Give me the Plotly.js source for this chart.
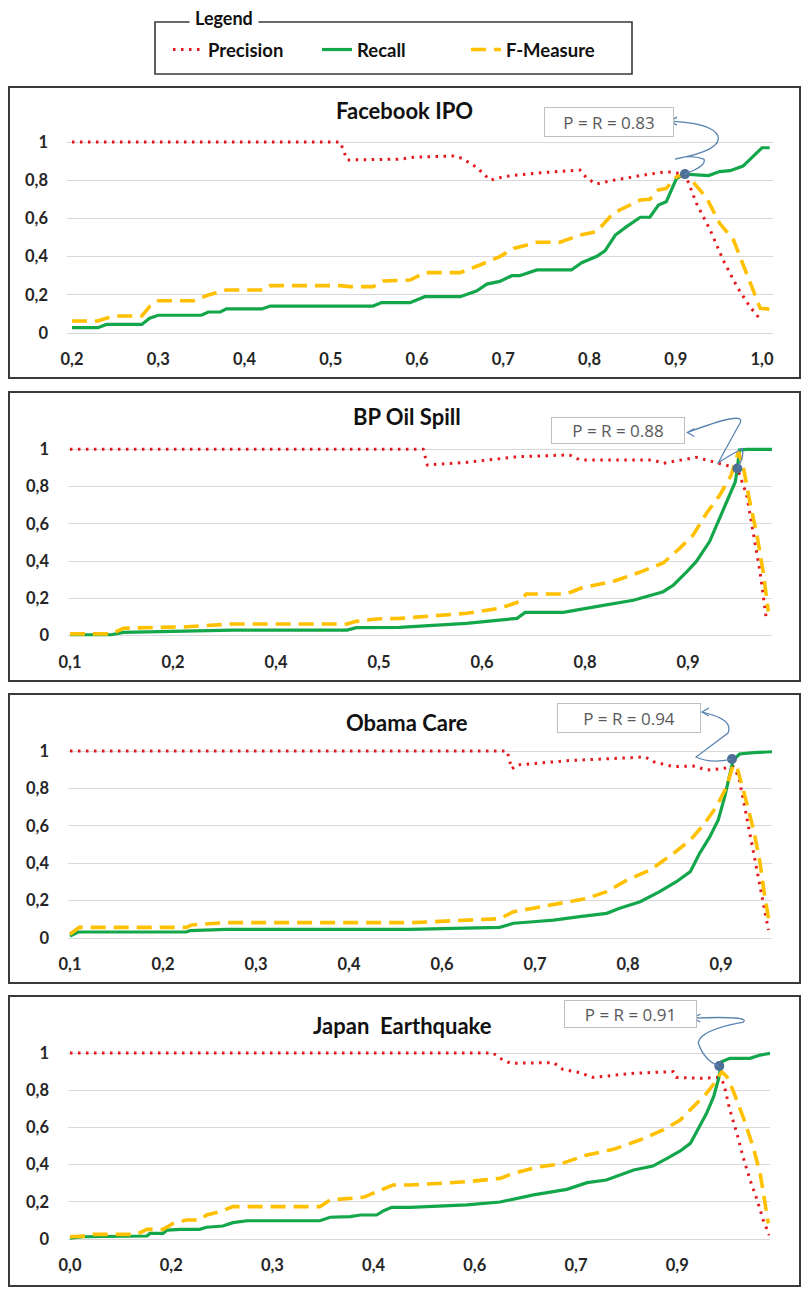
<!DOCTYPE html>
<html>
<head>
<meta charset="utf-8">
<script src="https://cdn.plot.ly/plotly-3.0.1.min.js"></script>
<style>html,body{margin:0;padding:0;background:#fff;}#chart{width:807px;height:1289px;}</style>
</head>
<body>
<div id="chart"></div>
<script>
// ---------- DATA (x = position along the category axis, tick i at x=i) ----------
const seriesNames = ['Precision', 'Recall', 'F-Measure'];
const panelTitles = ['Facebook IPO', 'BP Oil Spill', 'Obama Care', 'Japan  Earthquake'];

const fbTicks = ['0,2','0,3','0,4','0,5','0,6','0,7','0,8','0,9','1,0'];
const bpTicks = ['0,1','0,2','0,4','0,5','0,6','0,8','0,9'];
const obTicks = ['0,1','0,2','0,3','0,4','0,6','0,7','0,8','0,9'];
const jpTicks = ['0,0','0,2','0,3','0,4','0,6','0,7','0,9'];
const yTickVals = [0, 0.2, 0.4, 0.6, 0.8, 1];
const yTickText = ['0','0,2','0,4','0,6','0,8','1'];

const fbPrecision = [[0,1.0],[3.11,1.0],[3.19,0.906],[3.8,0.91],[3.96,0.92],[4.42,0.927],[4.52,0.915],[4.69,0.868],[4.85,0.80],[5.0,0.818],[5.16,0.827],[5.43,0.839],[5.89,0.853],[5.97,0.81],[6.08,0.78],[6.28,0.80],[6.59,0.824],[6.89,0.845],[7.11,0.832],[7.24,0.679],[7.40,0.539],[7.55,0.382],[7.71,0.243],[7.86,0.138],[8.0,0.06]];
const fbRecall = [[0,0.028],[0.30,0.028],[0.40,0.045],[0.81,0.045],[0.90,0.077],[1.0,0.093],[1.5,0.093],[1.58,0.11],[1.72,0.11],[1.79,0.126],[2.2,0.126],[2.3,0.141],[3.49,0.141],[3.59,0.159],[3.92,0.159],[4.09,0.19],[4.5,0.19],[4.69,0.22],[4.81,0.256],[4.96,0.27],[5.10,0.30],[5.19,0.30],[5.39,0.33],[5.79,0.33],[5.91,0.368],[6.08,0.40],[6.18,0.43],[6.30,0.513],[6.43,0.557],[6.59,0.606],[6.70,0.606],[6.80,0.67],[6.89,0.687],[7.01,0.81],[7.11,0.832],[7.38,0.824],[7.51,0.845],[7.63,0.85],[7.78,0.874],[8.0,0.97],[8.09,0.97]];
const fbFMeasure = [[0,0.063],[0.30,0.063],[0.48,0.089],[0.81,0.089],[0.90,0.138],[1.0,0.169],[1.41,0.169],[1.58,0.199],[1.79,0.225],[2.22,0.225],[2.30,0.248],[3.11,0.248],[3.22,0.243],[3.49,0.243],[3.61,0.272],[3.92,0.277],[4.09,0.316],[4.5,0.316],[4.73,0.356],[4.96,0.40],[5.12,0.443],[5.39,0.475],[5.66,0.475],[5.89,0.513],[6.08,0.53],[6.24,0.609],[6.35,0.644],[6.59,0.696],[6.70,0.70],[6.80,0.749],[6.89,0.757],[7.01,0.818],[7.11,0.832],[7.20,0.792],[7.36,0.705],[7.51,0.574],[7.67,0.487],[7.82,0.312],[7.98,0.129],[8.09,0.125]];

const bpPrecision = [[0,1.0],[3.43,1.0],[3.47,0.916],[3.85,0.93],[4.34,0.96],[4.85,0.97],[4.95,0.943],[5.66,0.943],[5.76,0.925],[6.08,0.957],[6.28,0.928],[6.48,0.898],[6.57,0.755],[6.63,0.558],[6.70,0.343],[6.76,0.093]];
const bpRecall = [[0,0.005],[0.4,0.005],[0.52,0.018],[1.17,0.025],[1.58,0.03],[2.69,0.03],[2.78,0.043],[3.20,0.045],[3.85,0.066],[4.17,0.084],[4.34,0.093],[4.42,0.125],[4.79,0.125],[5.15,0.16],[5.47,0.19],[5.76,0.236],[5.86,0.272],[5.99,0.344],[6.08,0.397],[6.21,0.505],[6.31,0.63],[6.39,0.737],[6.46,0.826],[6.48,0.898],[6.50,0.996],[6.57,1.0],[6.82,1.0]];
const bpFMeasure = [[0,0.01],[0.4,0.01],[0.52,0.04],[1.14,0.048],[1.58,0.063],[2.69,0.063],[2.78,0.077],[2.98,0.09],[3.20,0.093],[3.59,0.11],[3.85,0.12],[4.17,0.147],[4.37,0.183],[4.43,0.224],[4.82,0.224],[4.98,0.259],[5.27,0.29],[5.53,0.34],[5.76,0.39],[5.92,0.469],[6.05,0.54],[6.18,0.657],[6.31,0.755],[6.42,0.862],[6.49,0.987],[6.54,0.898],[6.60,0.72],[6.67,0.54],[6.73,0.344],[6.78,0.13]];

const obPrecision = [[0,1.0],[4.70,1.0],[4.75,0.904],[4.80,0.925],[5.34,0.948],[5.70,0.955],[6.06,0.965],[6.18,0.97],[6.27,0.943],[6.49,0.916],[6.70,0.92],[6.85,0.898],[6.99,0.904],[7.13,0.916],[7.19,0.863],[7.24,0.738],[7.31,0.56],[7.38,0.38],[7.45,0.203],[7.51,0.043]];
const obRecall = [[0,0.01],[0.09,0.032],[1.25,0.032],[1.29,0.039],[1.68,0.046],[3.66,0.046],[4.62,0.057],[4.77,0.079],[4.98,0.087],[5.20,0.096],[5.48,0.114],[5.77,0.132],[5.91,0.159],[6.13,0.194],[6.34,0.248],[6.52,0.301],[6.67,0.355],[6.77,0.453],[6.88,0.542],[6.97,0.631],[7.04,0.756],[7.10,0.881],[7.13,0.952],[7.20,0.984],[7.35,0.991],[7.55,0.996]];
const obFMeasure = [[0,0.02],[0.1,0.057],[1.25,0.057],[1.31,0.07],[1.68,0.082],[3.66,0.082],[4.62,0.103],[4.77,0.141],[4.98,0.159],[5.34,0.19],[5.56,0.212],[5.77,0.248],[5.99,0.31],[6.24,0.364],[6.49,0.453],[6.67,0.524],[6.81,0.604],[6.95,0.702],[7.06,0.809],[7.13,0.925],[7.17,0.916],[7.24,0.791],[7.35,0.578],[7.42,0.40],[7.47,0.221],[7.52,0.079]];

const jpPrecision = [[0,1.0],[4.18,1.0],[4.25,0.971],[4.35,0.945],[4.78,0.948],[4.87,0.912],[5.04,0.894],[5.17,0.869],[5.57,0.891],[5.96,0.90],[5.99,0.869],[6.23,0.864],[6.41,0.869],[6.46,0.837],[6.52,0.694],[6.59,0.568],[6.65,0.443],[6.72,0.317],[6.79,0.21],[6.85,0.102],[6.91,0.02]];
const jpRecall = [[0,0.004],[0.13,0.012],[0.76,0.016],[0.79,0.03],[0.92,0.03],[0.96,0.048],[1.09,0.052],[1.28,0.052],[1.35,0.063],[1.51,0.07],[1.61,0.088],[1.75,0.098],[2.47,0.098],[2.57,0.117],[2.77,0.12],[2.87,0.129],[3.03,0.129],[3.10,0.152],[3.18,0.17],[3.36,0.17],[3.92,0.183],[4.25,0.199],[4.58,0.237],[4.91,0.267],[5.11,0.303],[5.30,0.317],[5.57,0.371],[5.76,0.392],[5.90,0.434],[6.03,0.473],[6.13,0.514],[6.23,0.613],[6.29,0.676],[6.36,0.765],[6.41,0.864],[6.44,0.953],[6.52,0.971],[6.72,0.971],[6.82,0.989],[6.92,0.998]];
const jpFMeasure = [[0,0.012],[0.17,0.016],[0.23,0.025],[0.66,0.025],[0.76,0.052],[0.92,0.052],[1.02,0.084],[1.15,0.102],[1.28,0.102],[1.35,0.129],[1.48,0.147],[1.61,0.174],[2.47,0.174],[2.57,0.21],[2.90,0.224],[3.06,0.263],[3.19,0.29],[3.36,0.29],[3.59,0.299],[3.92,0.308],[4.25,0.326],[4.38,0.353],[4.64,0.389],[4.84,0.403],[5.11,0.452],[5.37,0.482],[5.63,0.532],[5.86,0.586],[6.03,0.64],[6.16,0.711],[6.29,0.783],[6.39,0.855],[6.44,0.899],[6.49,0.873],[6.55,0.801],[6.65,0.658],[6.75,0.496],[6.82,0.353],[6.87,0.192],[6.90,0.084]];

// P = R crossing points shown as blue dots, and their labels
const eqX = [7.107, 6.48, 7.118, 6.416];
const eqY = [0.832, 0.897, 0.957, 0.93];
const eqLabel = ['0.83', '0.88', '0.94', '0.91'];

// ---------- LAYOUT ----------
const W = 807, H = 1289;
const px = x => x / W;
const py = y => 1 - y / H;

const panels = [
  {ticks: fbTicks, series: [fbPrecision, fbRecall, fbFMeasure], left: 67, right: 773, top1: 142, base0: 333, xr: [-0.058, 8.128], box: [9, 87, 800, 378], titleY: 110, titleX: 405, lab: [609, 122, 128, 28],
   squig: 'M0,0 Q22,-8 19,-15 Q5,-20 -10,-15 Q38,-24 33,-38 Q28,-51 -15,-53', tip: [-15, -53]},
  {ticks: bpTicks, series: [bpPrecision, bpRecall, bpFMeasure], left: 68, right: 772, top1: 449.3, base0: 635.7, xr: [-0.019, 6.816], box: [9, 392, 800, 681], titleY: 417, titleX: 407, lab: [618, 430, 132, 25],
   squig: 'M0,0 Q7,-12 5,-20 Q-8,-13 -19,-6 Q-6,-30 3,-46 Q8,-58 -50,-36', tip: [-50, -36]},
  {ticks: obTicks, series: [obPrecision, obRecall, obFMeasure], left: 68, right: 772, top1: 751, base0: 938, xr: [-0.0215, 7.548], box: [9, 694, 800, 983], titleY: 722, titleX: 407, lab: [629, 718, 142, 28],
   squig: 'M0,0 Q-22,5 -36,-2 Q-20,-14 -4,-26 Q2,-40 -30,-47', tip: [-30, -47]},
  {ticks: jpTicks, series: [jpPrecision, jpRecall, jpFMeasure], left: 68, right: 770, top1: 1053, base0: 1239, xr: [-0.0198, 6.917], box: [9, 996, 800, 1286], titleY: 1025, titleX: 402, lab: [630, 1014, 131, 26],
   squig: 'M0,0 Q-15,-5 -21,-23 Q-20,-36 24,-44 Q32,-50 -26,-48', tip: [-26, -48]}
];

const colors = ['#e5191d', '#13a64b', '#ffc000'];
const lineStyles = [
  {color: colors[0], width: 3, dash: '2.5px,5.5px'},
  {color: colors[1], width: 3.2, dash: 'solid'},
  {color: colors[2], width: 3.6, dash: '15px,8px'}
];
const yr = [-0.03, 1.04];
const FONT = 'Lato, "Open Sans", sans-serif';
const tickFont = {family: FONT, size: 16.5, color: '#262626', weight: 'bold'};

const traces = [];
const layout = {
  width: W, height: H,
  margin: {l: 0, r: 0, t: 0, b: 0},
  paper_bgcolor: '#ffffff', plot_bgcolor: '#ffffff',
  showlegend: true,
  legend: {orientation: 'h', x: px(168), y: py(31), xanchor: 'left', yanchor: 'top',
           font: {family: FONT, size: 18.5, color: '#111', weight: 'bold'}, bgcolor: 'rgba(0,0,0,0)',
           entrywidth: 104, entrywidthmode: 'pixels', traceorder: 'normal'},
  shapes: [], annotations: []
};

function pixPath(path, ox, oy) {
  return path.replace(/(-?\d+\.?\d*),(-?\d+\.?\d*)/g, (m, a, b) =>
    px(ox + parseFloat(a)).toFixed(5) + ',' + py(oy + parseFloat(b)).toFixed(5));
}

panels.forEach((p, i) => {
  const n = i + 1;
  const xa = 'xaxis' + (n === 1 ? '' : n), ya = 'yaxis' + (n === 1 ? '' : n);
  const xr = 'x' + (n === 1 ? '' : n), yrf = 'y' + (n === 1 ? '' : n);
  const s = p.base0 - p.top1;
  const bottomPx = p.base0 - yr[0] * s, topPx = p.base0 - yr[1] * s;
  layout[xa] = {domain: [px(p.left), px(p.right)], range: p.xr, anchor: yrf,
    tickvals: p.ticks.map((_, k) => k), ticktext: p.ticks, showgrid: false, zeroline: false, showline: false, ticks: '',
    ticklabelstandoff: 9, tickfont: tickFont, fixedrange: true};
  layout[ya] = {domain: [py(bottomPx), py(topPx)], range: yr, anchor: xr,
    tickvals: yTickVals, ticktext: yTickText, showgrid: true, gridcolor: '#d9d9d9', gridwidth: 1, zeroline: false, showline: false, ticks: '',
    ticklabelstandoff: 18, tickfont: tickFont, fixedrange: true};

  p.series.forEach((data, k) => {
    traces.push({type: 'scatter', mode: 'lines', name: seriesNames[k], legendgroup: seriesNames[k], showlegend: i === 0,
      x: data.map(d => d[0]), y: data.map(d => d[1]), xaxis: xr, yaxis: yrf,
      line: Object.assign({shape: 'linear'}, lineStyles[k]), hoverinfo: 'skip'});
  });
  traces.push({type: 'scatter', mode: 'markers', x: [eqX[i]], y: [eqY[i]], xaxis: xr, yaxis: yrf, showlegend: false,
    marker: {color: '#4d6f98', size: 10}, hoverinfo: 'skip', cliponaxis: false});

  // panel frame
  layout.shapes.push({type: 'rect', xref: 'paper', yref: 'paper', x0: px(p.box[0]), y0: py(p.box[3]), x1: px(p.box[2]), y1: py(p.box[1]),
    line: {color: '#3a3a3a', width: 2}, fillcolor: 'rgba(0,0,0,0)', layer: 'above'});
  // title
  layout.annotations.push({xref: 'paper', yref: 'paper', x: px(p.titleX), y: py(p.titleY), xanchor: 'center', yanchor: 'middle',
    text: panelTitles[i], showarrow: false, font: {family: FONT, size: 22, color: '#111', weight: 'bold'}});
  // label box
  layout.annotations.push({xref: 'paper', yref: 'paper', x: px(p.lab[0]), y: py(p.lab[1]), xanchor: 'center', yanchor: 'middle',
    width: p.lab[2] - 2, height: p.lab[3] - 2, text: 'P = R = ' + eqLabel[i], showarrow: false, bgcolor: '#ffffff',
    bordercolor: '#bfbfbf', borderwidth: 1, font: {family: '"Open Sans", sans-serif', size: 17, color: '#595959'}});
  // squiggle arrow from the dot to the label
  const dx = p.left + (eqX[i] - p.xr[0]) / (p.xr[1] - p.xr[0]) * (p.right - p.left);
  const dy = p.base0 - eqY[i] * s;
  layout.shapes.push({type: 'path', xref: 'paper', yref: 'paper', path: pixPath(p.squig, dx, dy),
    line: {color: '#5a84b0', width: 1.3}, fillcolor: 'rgba(0,0,0,0)', layer: 'above'});
  const t = p.tip;
  layout.shapes.push({type: 'path', xref: 'paper', yref: 'paper',
    path: pixPath('M' + (t[0] + 7) + ',' + (t[1] - 4) + ' L' + t[0] + ',' + t[1] + ' L' + (t[0] + 7) + ',' + (t[1] + 4), dx, dy),
    line: {color: '#5a84b0', width: 1.3}, fillcolor: 'rgba(0,0,0,0)', layer: 'above'});
});

// legend frame and its title
layout.shapes.push({type: 'rect', xref: 'paper', yref: 'paper', x0: px(155), y0: py(74), x1: px(632), y1: py(22),
  line: {color: '#3a3a3a', width: 1.6}, fillcolor: 'rgba(0,0,0,0)'});
layout.annotations.push({xref: 'paper', yref: 'paper', x: px(224), y: py(18), xanchor: 'center', yanchor: 'middle',
  text: 'Legend', showarrow: false, bgcolor: '#ffffff', borderpad: 5, font: {family: FONT, size: 18, color: '#111', weight: 'bold'}});

Plotly.newPlot('chart', traces, layout, {staticPlot: true, displayModeBar: false});
</script>
</body>
</html>
